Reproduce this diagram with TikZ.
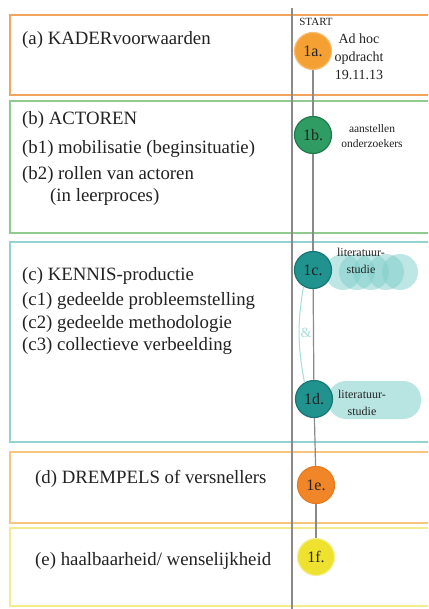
\documentclass[tikz,border=0pt]{standalone}
\usepackage{fontspec}
\setmainfont{Liberation Serif}
\definecolor{boxA}{HTML}{F3A45C}
\definecolor{boxB}{HTML}{8FCB8F}
\definecolor{boxC}{HTML}{93D2D0}
\definecolor{boxD}{HTML}{F6C57E}
\definecolor{boxE}{HTML}{F3EC8E}
\definecolor{cA}{HTML}{F4A032}
\definecolor{cAb}{HTML}{F8BC70}
\definecolor{cB}{HTML}{2F9D63}
\definecolor{cBb}{HTML}{1E7A4A}
\definecolor{cC}{HTML}{21938F}
\definecolor{cCb}{HTML}{177572}
\definecolor{cE}{HTML}{F08628}
\definecolor{cEb}{HTML}{E67A20}
\definecolor{cF}{HTML}{EFE22E}
\definecolor{cFb}{HTML}{F5EE98}
\definecolor{cloudc}{HTML}{7ECFCB}
\definecolor{amp}{HTML}{A6DDDB}
\definecolor{txt}{HTML}{222222}
\definecolor{divider}{HTML}{8A8A8A}
\tikzset{
  band/.style={line width=2.4pt},
  lefttext/.style={anchor=base west, inner sep=0pt, text=txt, font=\fontsize{18.8}{22}\selectfont},
  stepcirc/.style={circle, minimum size=37pt, inner sep=0pt, line width=1.2pt, text=txt, font=\fontsize{16}{16}\selectfont},
  smalltext/.style={align=center, inner sep=0pt, text=txt},
  cloudblob/.style={fill=cloudc, fill opacity=0.5, draw=none},
  timeline/.style={draw=divider, line width=1.2pt},
}
\begin{document}
\begin{tikzpicture}[x=1pt,y=-1pt]
\useasboundingbox (0,0) rectangle (428,609);
\clip (0,0) rectangle (428,609);
\fill[white] (0,0) rectangle (428,609);
% bands
\draw[band, draw=boxA] (10,15) rectangle (440,95);
\draw[band, draw=boxB] (10,101) rectangle (440,233);
\draw[band, draw=boxC] (10,242) rectangle (440,442);
\draw[band, draw=boxD] (10,452) rectangle (440,523);
\draw[band, draw=boxE] (10,528) rectangle (440,606);
% divider
\coordinate (dtop) at (292,8);
\coordinate (dbot) at (292,612);
\draw[divider, line width=1.5pt] (dtop) -- (dbot);
% clouds
\foreach \cx in {343,357,371,386,400} \fill[cloudblob] (\cx,272) circle (18);
\fill[cloudc, opacity=0.55, rounded corners=18pt] (328,381) rectangle (421,419);
% circles
\node[stepcirc, fill=cA, draw=cAb] (n1a) at (313,51) {1a.};
\node[stepcirc, fill=cB, draw=cBb] (n1b) at (313,135) {1b.};
\node[stepcirc, fill=cC, draw=cCb] (n1c) at (313,270) {1c.};
\node[stepcirc, fill=cC, draw=cCb] (n1d) at (314,399) {1d.};
\node[stepcirc, fill=cE, draw=cEb] (n1e) at (316,485) {1e.};
\node[stepcirc, fill=cF, draw=cFb] (n1f) at (316,557) {1f.};
% timeline
\draw[timeline] (n1a) -- (n1b);
\draw[timeline] (n1b) -- (n1c);
\draw[timeline] (n1c) -- (n1d);
\draw[timeline] (n1d) -- (n1e);
\draw[timeline] (n1e) -- (n1f);
% & link
\draw[amp, line width=1pt] (n1c.240) to[bend right=10] (n1d.120);
\node[text=amp, inner sep=0pt, font=\fontsize{14}{14}\selectfont] (ampl) at (306,333) {\&};
% left texts
\node[lefttext] (ta) at (22,45) {(a) KADERvoorwaarden};
\node[lefttext] (tb) at (22,125) {(b) ACTOREN};
\node[lefttext] (tb1) at (22,154) {(b1) mobilisatie (beginsituatie)};
\node[lefttext] (tb2) at (22,180) {(b2) rollen van actoren};
\node[lefttext] (tb3) at (50,202) {(in leerproces)};
\node[lefttext] (tc) at (22,280) {(c) KENNIS-productie};
\node[lefttext] (tc1) at (22,305) {(c1) gedeelde probleemstelling};
\node[lefttext] (tc2) at (22,328) {(c2) gedeelde methodologie};
\node[lefttext] (tc3) at (22,350) {(c3) collectieve verbeelding};
\node[lefttext] (td) at (35,483) {(d) DREMPELS of versnellers};
\node[lefttext] (te) at (35,565) {(e) haalbaarheid/ wenselijkheid};
% right texts
\node[smalltext, font=\fontsize{11}{11}\selectfont] (start) at (316,22) {START};
\node[smalltext, font=\fontsize{14}{18}\selectfont] (adhoc) at (359,57) {Ad hoc\\opdracht\\19.11.13};
\node[smalltext, font=\fontsize{11.5}{15}\selectfont] (aan) at (372,136) {aanstellen\\onderzoekers};
\node[smalltext, font=\fontsize{12}{17}\selectfont] (lit1) at (361,261) {literatuur-\\studie};
\node[smalltext, font=\fontsize{12}{17}\selectfont] (lit2) at (362,403) {literatuur-\\studie};
\end{tikzpicture}
\end{document}
